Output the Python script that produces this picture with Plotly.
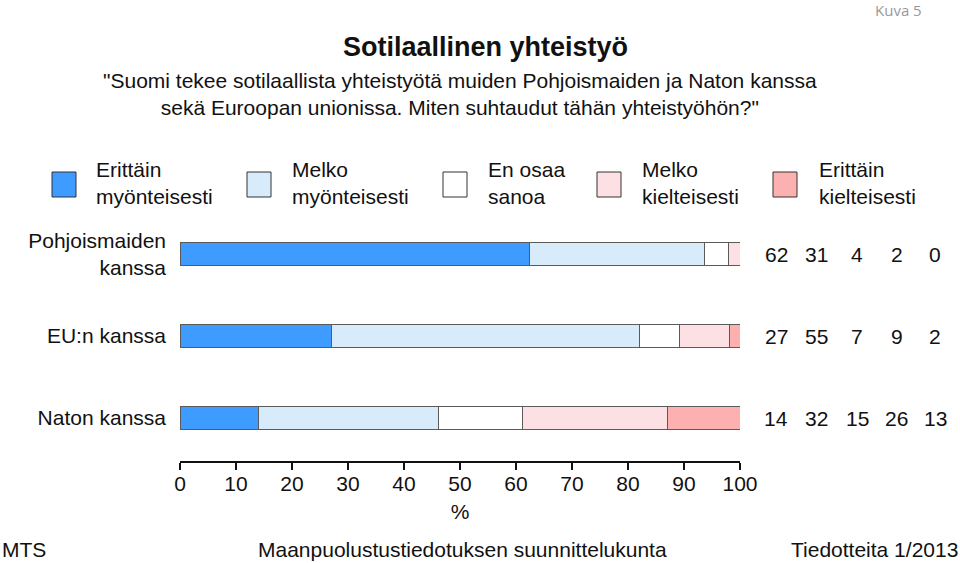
import plotly.graph_objects as go

# data
ryhmat = ['Pohjoismaiden<br>kanssa', 'EU:n kanssa', 'Naton kanssa']
vastaukset = ['Erittäin<br>myönteisesti', 'Melko<br>myönteisesti', 'En osaa<br>sanoa',
              'Melko<br>kielteisesti', 'Erittäin<br>kielteisesti']
osuudet = [
    [62.4, 27.1, 14.1],
    [31.2, 55.0, 32.0],
    [4.4, 7.1, 15.0],
    [2.0, 9.0, 26.0],
    [0.0, 1.8, 12.9],
]
luvut = [
    [62, 27, 14],
    [31, 55, 32],
    [4, 7, 15],
    [2, 9, 26],
    [0, 2, 13],
]
varit = ['#3e9bff', '#d8ebfb', '#ffffff', '#fde0e3', '#fdb0b0']
x_ticks = [0, 10, 20, 30, 40, 50, 60, 70, 80, 90, 100]

W, H = 960, 563
L, R, T, B = 180, 220, 213, 102
pw, ph = W - L - R, H - T - B
FS = 21


def px(x):
    return (x - L) / pw


def py(y):
    return (H - B - y) / ph


fig = go.Figure()
for i, nimi in enumerate(vastaukset):
    fig.add_trace(go.Bar(
        y=ryhmat,
        x=osuudet[i],
        orientation='h',
        name=nimi.replace('<br>', ' '),
        width=0.28,
        marker=dict(color=varit[i], line=dict(color='#5a5a5a', width=1)),
        showlegend=False,
        hoverinfo='x+name'
    ))

fnt = 'Liberation Sans, Arial, sans-serif'
annot = []
shapes = []


def teksti(x, y, t, xa='center', size=FS, **kw):
    annot.append(dict(x=px(x), y=py(y), xref='paper', yref='paper', text=t,
                      showarrow=False, xanchor=xa, yanchor='middle',
                      font=dict(size=size, color=kw.pop('color', '#111'),
                                family=kw.pop('family', fnt)), **kw))


# legend
neliot = [64, 259, 455, 609, 785]
tekstit = [94, 290, 486, 640, 817]
for i, nimi in enumerate(vastaukset):
    c = neliot[i]
    shapes.append(dict(type='rect', xref='paper', yref='paper',
                       x0=px(c - 12), x1=px(c + 12), y0=py(197), y1=py(172),
                       fillcolor=varit[i], line=dict(color='#333333', width=1)))
    teksti(tekstit[i], 183, nimi, xa='left', align='left')

# value columns on the right
sarakkeet = [776, 816, 857, 897, 935]
for i in range(len(vastaukset)):
    for j, r in enumerate(ryhmat):
        annot.append(dict(x=px(sarakkeet[i]), y=r, xref='paper', yref='y',
                          text=str(luvut[i][j]), showarrow=False, xanchor='center',
                          yanchor='middle', font=dict(size=FS, color='#111')))

# titles
teksti(485, 47, '<b>Sotilaallinen yhteistyö</b>', size=27)
teksti(460, 94, '"Suomi tekee sotilaallista yhteistyötä muiden Pohjoismaiden ja Naton kanssa'
                '<br>sekä Euroopan unionissa. Miten suhtaudut tähän yhteistyöhön?"')
teksti(924, 10, 'Kuva 5', xa='right', size=15, color='#999999', family='Open Sans, sans-serif')

# footer
teksti(0, 549, 'MTS', xa='left')
teksti(462, 549, 'Maanpuolustustiedotuksen suunnittelukunta')
teksti(960, 549, 'Tiedotteita 1/2013', xa='right')

fig.update_layout(
    width=W,
    height=H,
    barmode='stack',
    plot_bgcolor='white',
    paper_bgcolor='white',
    margin=dict(l=L, r=R, t=T, b=B),
    font=dict(family=fnt, size=FS, color='#111'),
    annotations=annot,
    shapes=shapes,
    xaxis=dict(
        range=[0, 100],
        tickvals=x_ticks,
        showgrid=False,
        zeroline=False,
        showline=True,
        linecolor='#111',
        linewidth=1.5,
        ticks='outside',
        ticklen=7,
        tickcolor='#111',
        tickwidth=1.5,
        tickfont=dict(size=FS),
        ticklabelstandoff=-4,
        title=dict(text='%', font=dict(size=FS), standoff=10),
    ),
    yaxis=dict(
        categoryorder='array',
        categoryarray=ryhmat,
        range=[2.524, -0.5],
        showgrid=False,
        zeroline=False,
        showline=False,
        ticks='',
        ticklabelstandoff=13,
        tickfont=dict(size=FS),
    ),
)

fig.write_html("out.html", config={'displayModeBar': False},
               post_script="document.body.style.margin='0';")
